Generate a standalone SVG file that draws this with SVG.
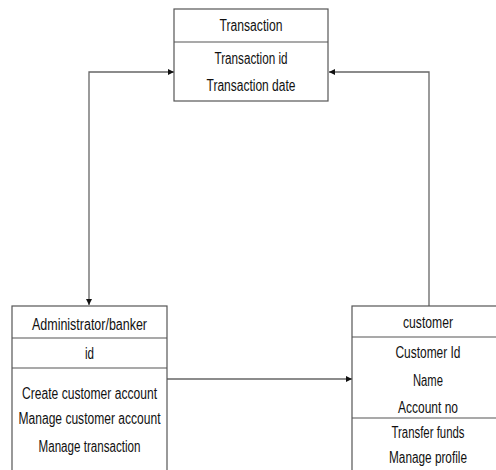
<svg xmlns="http://www.w3.org/2000/svg" width="496" height="470" viewBox="0 0 496 470">
<defs>
<style>
.box{fill:#fff;stroke:#555;stroke-width:1.2}
.div{stroke:#555;stroke-width:1.2}
.conn{fill:none;stroke:#666;stroke-width:1.3}
text{font-family:"Liberation Sans",Arial,sans-serif;font-size:16px;fill:#111;text-anchor:middle}
</style>
<marker id="ah" viewBox="0 0 8 8" refX="8" refY="4" markerWidth="6" markerHeight="6" orient="auto-start-reverse" markerUnits="userSpaceOnUse">
<path d="M0,0 L8,4 L0,8 Z" fill="#111"/>
</marker>
</defs>
<rect width="496" height="470" fill="#fff"/>
<g id="connectors">
<path class="conn" d="M174,72 H89 V305" marker-start="url(#ah)" marker-end="url(#ah)"/>
<path class="conn" d="M429,306 V72 H329" marker-end="url(#ah)"/>
<path class="conn" d="M167,379 H352" marker-end="url(#ah)"/>
</g>
<g id="transaction">
<rect class="box" x="174" y="9" width="154" height="92"/>
<line class="div" x1="174" y1="42" x2="328" y2="42"/>
<text x="251" y="31" textLength="63" lengthAdjust="spacingAndGlyphs">Transaction</text>
<text x="251" y="64" textLength="73" lengthAdjust="spacingAndGlyphs">Transaction id</text>
<text x="251" y="91" textLength="89" lengthAdjust="spacingAndGlyphs">Transaction date</text>
</g>
<g id="administrator">
<rect class="box" x="12" y="306" width="155" height="180"/>
<line class="div" x1="12" y1="338" x2="167" y2="338"/>
<line class="div" x1="12" y1="368" x2="167" y2="368"/>
<text x="89.5" y="330" textLength="115" lengthAdjust="spacingAndGlyphs">Administrator/banker</text>
<text x="89.5" y="359" textLength="9" lengthAdjust="spacingAndGlyphs">id</text>
<text x="89.5" y="399" textLength="135" lengthAdjust="spacingAndGlyphs">Create customer account</text>
<text x="89.5" y="424" textLength="142" lengthAdjust="spacingAndGlyphs">Manage customer account</text>
<text x="89.5" y="452" textLength="102" lengthAdjust="spacingAndGlyphs">Manage transaction</text>
</g>
<g id="customer">
<rect class="box" x="352" y="306" width="150" height="180"/>
<line class="div" x1="352" y1="337" x2="502" y2="337"/>
<line class="div" x1="352" y1="418" x2="502" y2="418"/>
<text x="428" y="328" textLength="50" lengthAdjust="spacingAndGlyphs">customer</text>
<text x="428" y="358" textLength="65" lengthAdjust="spacingAndGlyphs">Customer Id</text>
<text x="428" y="386" textLength="30" lengthAdjust="spacingAndGlyphs">Name</text>
<text x="428" y="413" textLength="60" lengthAdjust="spacingAndGlyphs">Account no</text>
<text x="428" y="438" textLength="73" lengthAdjust="spacingAndGlyphs">Transfer funds</text>
<text x="428" y="463" textLength="78" lengthAdjust="spacingAndGlyphs">Manage profile</text>
</g>
</svg>
